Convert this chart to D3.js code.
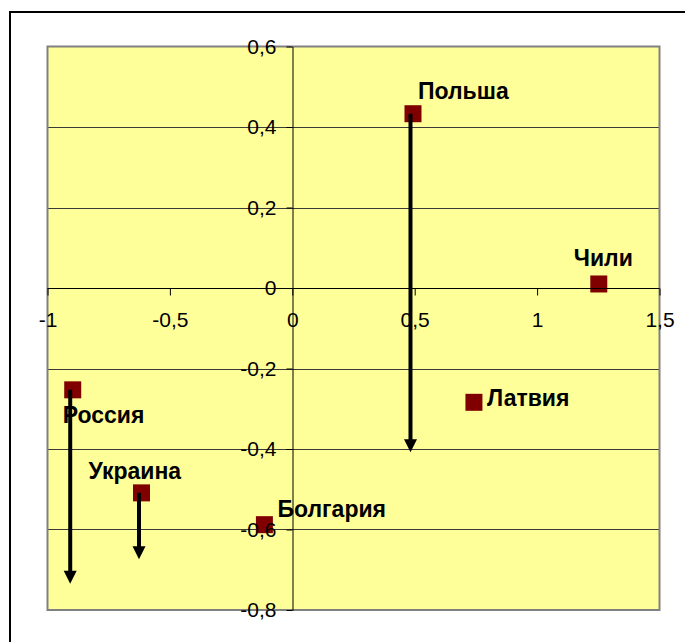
<!DOCTYPE html>
<html><head><meta charset="utf-8">
<script src="https://cdn.jsdelivr.net/npm/d3@7"></script>
<style>
html,body{margin:0;padding:0;background:#fff;overflow:hidden}
svg{display:block}
</style></head>
<body>
<script>
const countries = ["Польша","Чили","Латвия","Россия","Украина","Болгария"];
const xValues   = [0.493, 1.252, 0.742, -0.897, -0.616, -0.114];
const yValues   = [0.433, 0.010, -0.284, -0.253, -0.509, -0.588];
// arrows: from country point down to target value
const arrowCountries = ["Польша","Россия","Украина"];
const arrowTargets   = [-0.408, -0.735, -0.674];
const xTicks = [-1,-0.5,0,0.5,1,1.5];
const yTicks = [-0.8,-0.6,-0.4,-0.2,0,0.2,0.4,0.6];

// label style offsets (pixels)
const labelOffsets = {
  "Польша":[5,-15], "Чили":[-25,-18], "Латвия":[13,4],
  "Россия":[-10,33], "Украина":[-53,-14], "Болгария":[13,-8]
};

const W=685,H=642;
const svg=d3.select("body").append("svg").attr("width",W).attr("height",H);
svg.append("rect").attr("x",10).attr("y",12).attr("width",800).attr("height",800)
  .attr("fill","#fff").attr("stroke","#000").attr("stroke-width",2);

const x=d3.scaleLinear().domain([-1,1.5]).range([47.5,659.5]);
const y=d3.scaleLinear().domain([-0.8,0.6]).range([610,46.5]);

svg.append("rect").attr("x",x(-1)).attr("y",y(0.6)).attr("width",x(1.5)-x(-1)).attr("height",y(-0.8)-y(0.6))
  .attr("fill","#FFFF99");

svg.append("g").selectAll("line").data(yTicks.filter(d=>d>-0.8&&d<0.6)).join("line")
  .attr("x1",x(-1)).attr("x2",x(1.5)).attr("y1",d=>Math.round(y(d))+0.5).attr("y2",d=>Math.round(y(d))+0.5)
  .attr("stroke","#3a3a3a").attr("stroke-width",1);

svg.append("rect").attr("x",x(-1)).attr("y",y(0.6)).attr("width",x(1.5)-x(-1)).attr("height",y(-0.8)-y(0.6))
  .attr("fill","none").attr("stroke","#808080").attr("stroke-width",2);

const pts=countries.map((c,i)=>({c,x:xValues[i],y:yValues[i]}));
const S=17;
svg.append("g").selectAll("rect").data(pts).join("rect")
  .attr("x",d=>x(d.x)-S/2).attr("y",d=>y(d.y)-S/2).attr("width",S).attr("height",S)
  .attr("fill","#800000");

const loc=d3.formatLocale({decimal:",",thousands:" ",grouping:[3],currency:["",""],minus:"-"});
const fmt=loc.format(".1~f");

const xa=svg.append("g").attr("transform",`translate(0,${Math.round(y(0))+0.5})`)
  .call(d3.axisBottom(x).tickValues(xTicks).tickFormat(fmt).tickSize(7).tickSizeOuter(0).tickPadding(17));
const ya=svg.append("g").attr("transform",`translate(${Math.round(x(0))+0.5},0)`)
  .call(d3.axisLeft(y).tickValues(yTicks).tickFormat(fmt).tickSize(6).tickSizeOuter(0).tickPadding(10));
[xa,ya].forEach(g=>{
  g.selectAll("path.domain").attr("stroke","#000").attr("stroke-width",1);
  g.selectAll(".tick line").attr("stroke","#000");
  g.selectAll("text").attr("font-family","Liberation Sans, Arial, sans-serif").attr("font-size",21).attr("fill","#000");
});
xa.select("path.domain").attr("d",`M${x(-1)},0H${x(1.5)}`);

svg.append("g").selectAll("text").data(pts).join("text")
  .attr("x",d=>x(d.x)+labelOffsets[d.c][0]).attr("y",d=>y(d.y)+labelOffsets[d.c][1])
  .attr("font-family","Liberation Sans, Arial, sans-serif").attr("font-weight","bold").attr("font-size",23)
  .attr("fill","#000").text(d=>d.c);

const arrows=arrowCountries.map((c,i)=>{const p=pts.find(q=>q.c===c);return {x:p.x,y0:p.y,y1:arrowTargets[i]};});
const ag=svg.append("g");
arrows.forEach(a=>{
  const ax=x(a.x)-2.5, ty=y(a.y1);
  ag.append("line").attr("x1",ax).attr("x2",ax).attr("y1",y(a.y0)).attr("y2",ty-10)
    .attr("stroke","#000").attr("stroke-width",4);
  ag.append("path").attr("d",`M${ax-6.5},${ty-13}L${ax+6.5},${ty-13}L${ax},${ty}Z`).attr("fill","#000");
});
</script>
</body></html>
